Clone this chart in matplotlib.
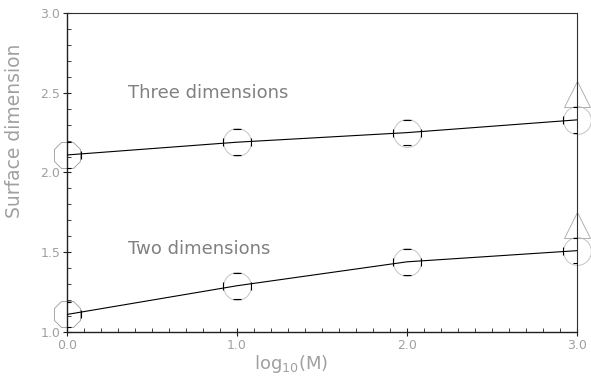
import matplotlib
matplotlib.use("Agg")
import matplotlib.pyplot as plt
from matplotlib.ticker import MultipleLocator, FixedLocator

# data
log_m = [0.0, 1.0, 2.0, 3.0]
three_dim = [2.11, 2.19, 2.25, 2.33]
two_dim = [1.11, 1.29, 1.44, 1.51]
x_err = 0.085
y_err = 0.08
three_extra = (3.0, 2.49)
two_extra = (3.0, 1.67)
x_ticks = [0.0, 1.0, 2.0, 3.0]
x_ticklabels = ["0.0", "1.0", "2.0", "3.0"]
y_ticks = [1.0, 1.5, 2.0, 2.5, 3.0]
y_ticklabels = ["1.0", "1.5", "2.0", "2.5", "3.0"]

fig = plt.figure(figsize=(5.91, 3.86), dpi=100)
ax = fig.add_axes([67 / 591, 1 - 332 / 386, 510 / 591, 319 / 386])
ax.set_xlim(0, 3)
ax.set_ylim(1.0, 3.0)

circle_col = "#c4c4c4"
for ys in (three_dim, two_dim):
    ax.plot(log_m, ys, color="black", lw=0.8, zorder=3)
    ax.errorbar(log_m, ys, xerr=x_err, yerr=y_err, fmt="none", ecolor="black",
                elinewidth=0, capsize=3, capthick=0.8, zorder=4, clip_on=True)
    ax.plot(log_m[1:], ys[1:], linestyle="none", marker="o", markersize=20,
            markerfacecolor="none", markeredgecolor=circle_col, markeredgewidth=0.7,
            zorder=2, clip_on=False)
    ax.plot(log_m[:1], ys[:1], linestyle="none", marker="8", markersize=21,
            markerfacecolor="none", markeredgecolor="#a8a8a8", markeredgewidth=0.7,
            zorder=2, clip_on=False)

for (xe, ye) in (three_extra, two_extra):
    ax.plot([xe], [ye], linestyle="none", marker="^", markersize=19,
            markerfacecolor="none", markeredgecolor="#b0b0b0", markeredgewidth=0.7,
            zorder=2, clip_on=False)

txt_col = "#808080"
ax.text((128 - 67) / 510, 2.5, "Three dimensions",
        transform=ax.get_yaxis_transform(), fontsize=13, color=txt_col,
        va="center", ha="left")
ax.text((128 - 67) / 510, 1.52, "Two dimensions",
        transform=ax.get_yaxis_transform(), fontsize=13, color=txt_col,
        va="center", ha="left")

# axes styling
for side in ("top", "right"):
    ax.spines[side].set_color("#303030")
    ax.spines[side].set_linewidth(0.8)
for side in ("left", "bottom"):
    ax.spines[side].set_color("#202020")
    ax.spines[side].set_linewidth(1.0)

ax.xaxis.set_major_locator(FixedLocator(x_ticks))
ax.set_xticklabels(x_ticklabels)
ax.yaxis.set_major_locator(FixedLocator(y_ticks))
ax.set_yticklabels(y_ticklabels)
ax.xaxis.set_minor_locator(MultipleLocator(0.1))
ax.yaxis.set_minor_locator(MultipleLocator(0.1))
lab_col = "#a0a0a0"
ax.tick_params(which="major", direction="inout", length=6, width=0.8,
               colors="#202020", labelcolor=lab_col, labelsize=9, pad=2)
ax.tick_params(which="minor", direction="in", length=3, width=0.6, colors="#202020")
ax.tick_params(top=False, right=False, which="both")

ax.set_xlabel(r"log$_{10}$(M)", fontsize=13, color=lab_col)
ax.xaxis.set_label_coords(0.44, -0.065)
ax.set_ylabel("Surface dimension", fontsize=13.5, color=lab_col)
ax.yaxis.set_label_coords(-0.085, 0.63)

fig.savefig("out.png", dpi=100)
